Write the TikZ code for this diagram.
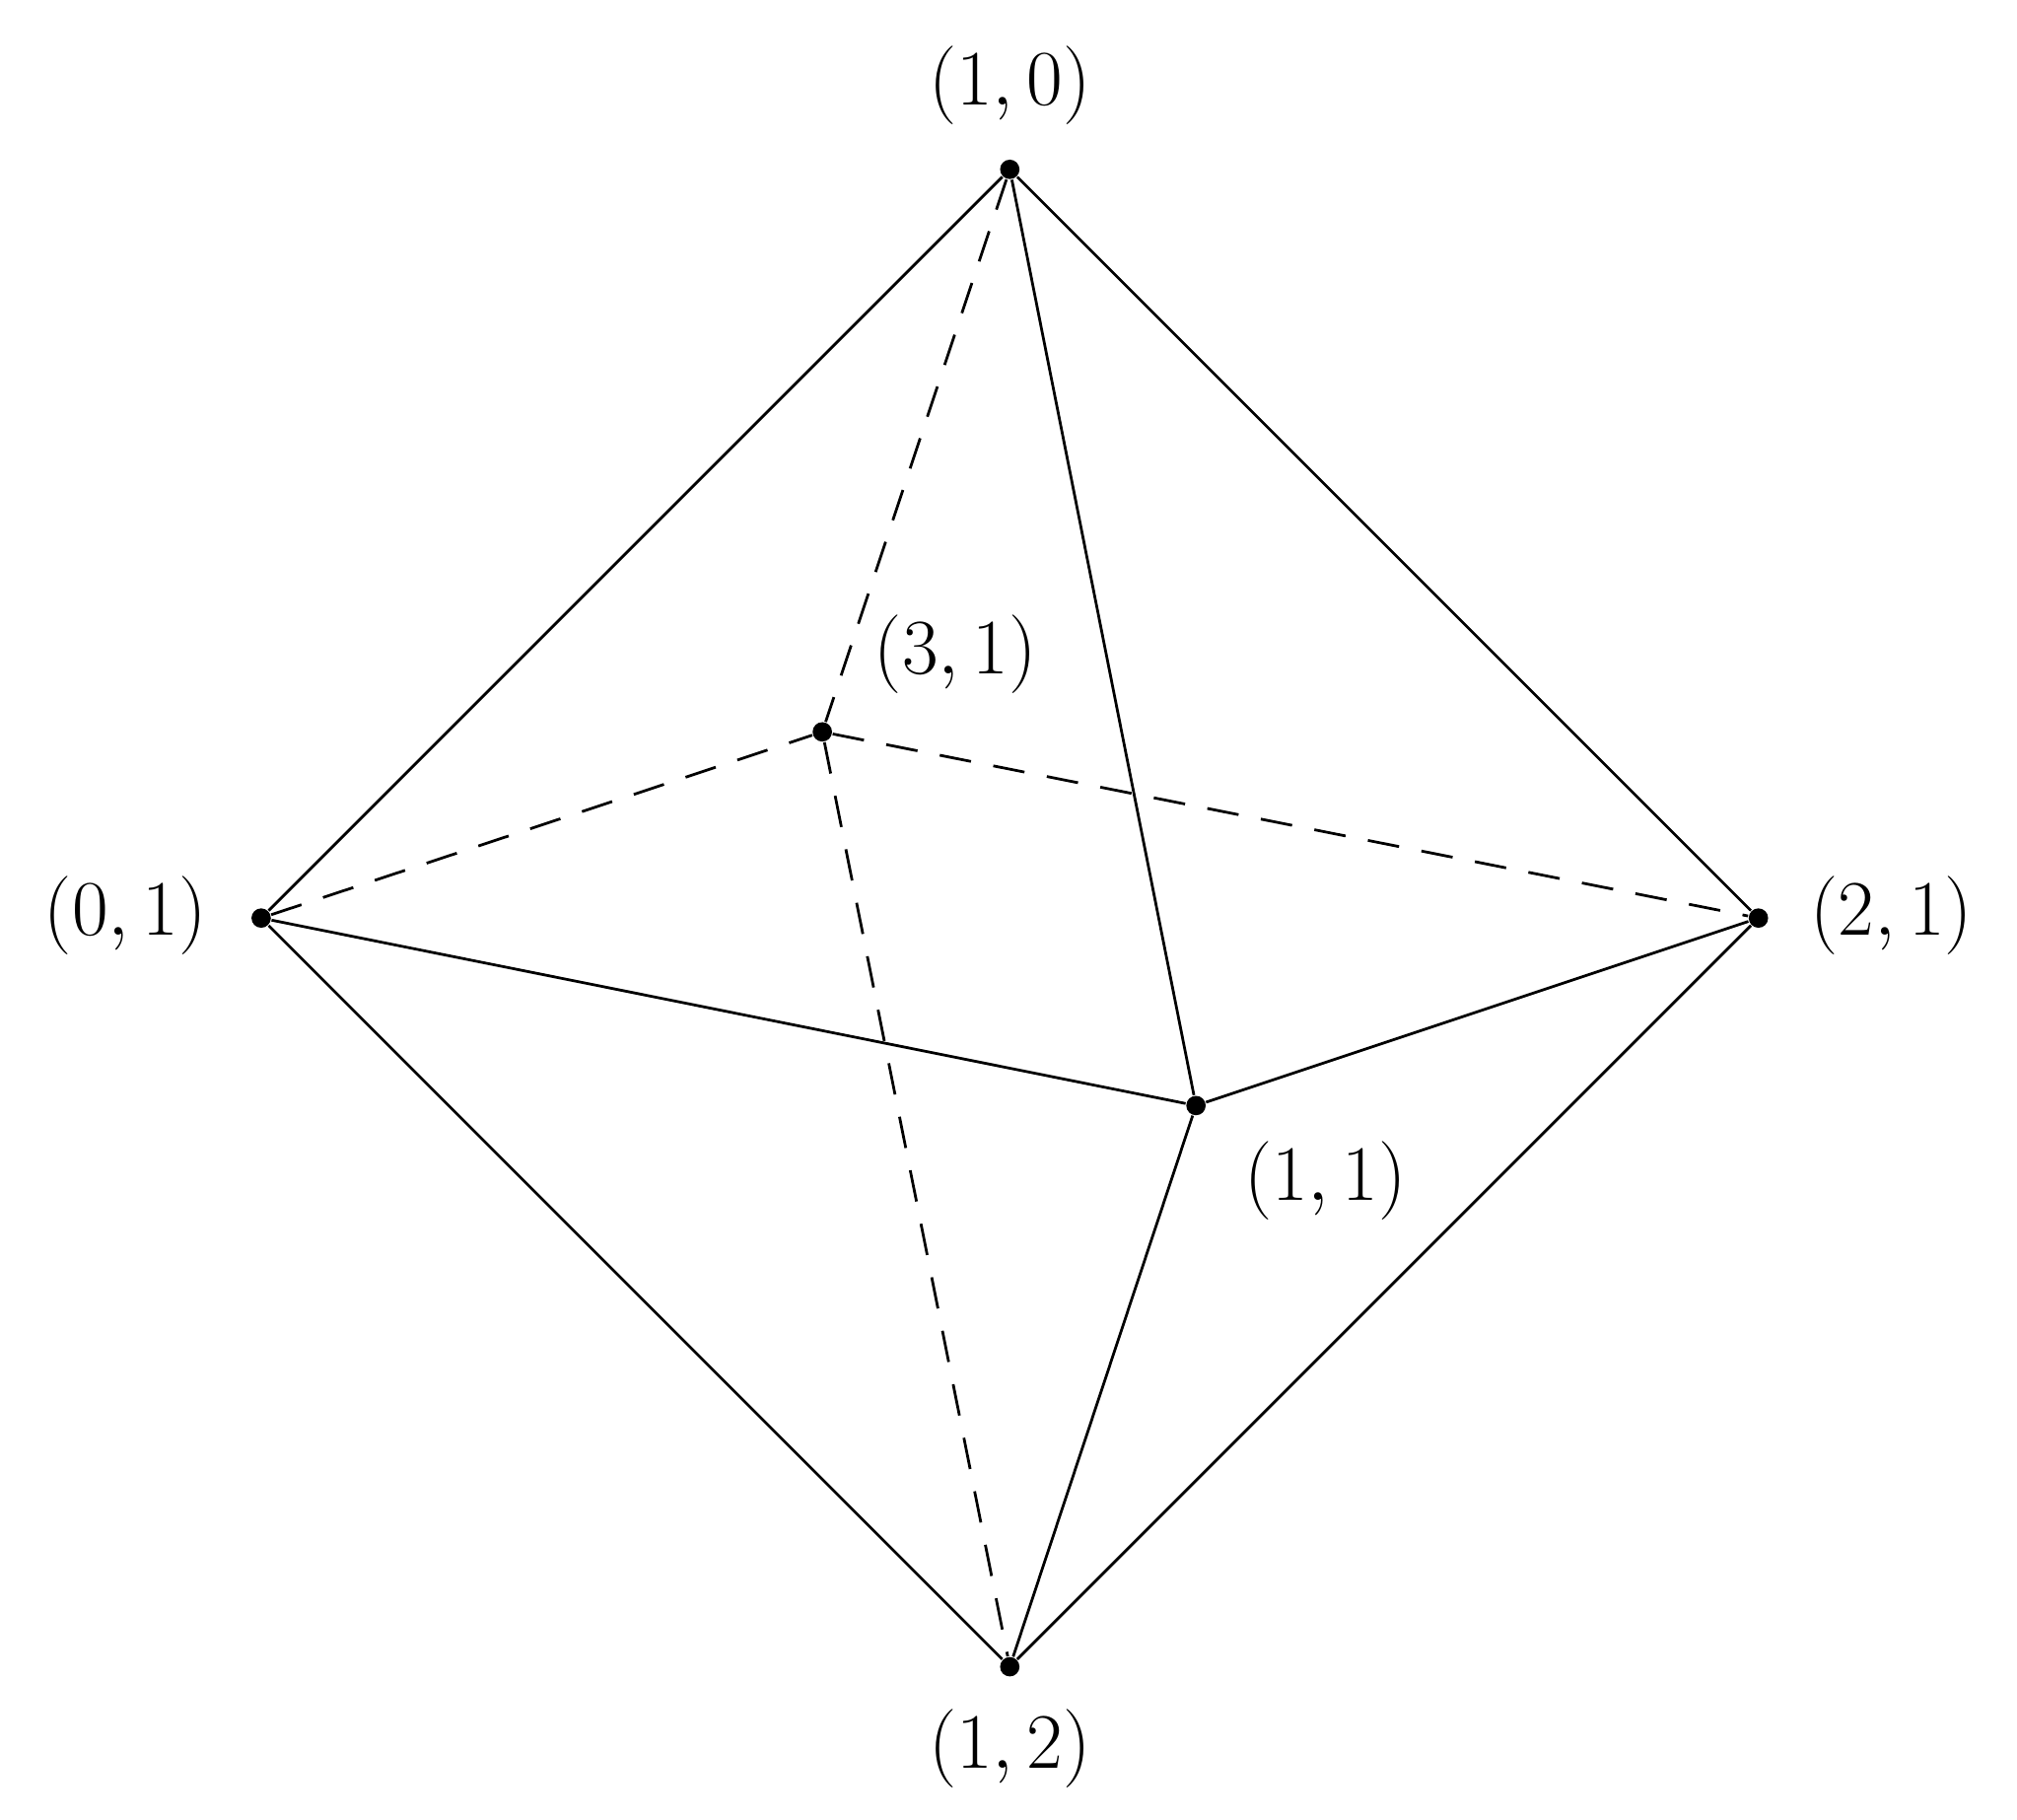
\documentclass[tikz,border=0pt]{standalone}
\begin{document}
\begin{tikzpicture}[x=0.01cm,y=-0.01cm,
  pt/.style={circle,fill=black,inner sep=0pt,minimum size=0.15cm},
  lab/.style={font=\fontsize{17}{20}\selectfont},
  edge/.style={line width=0.6pt},
  hid/.style={line width=0.6pt,dashed,dash pattern=on 7pt off 5pt}]
\useasboundingbox (0,0) rectangle (1560,1407);
\node[pt] (t) at (781,131) {};
\node[pt] (l) at (202,710) {};
\node[pt] (r) at (1360,710) {};
\node[pt] (b) at (781,1289) {};
\node[pt] (h) at (636,566) {};
\node[pt] (f) at (925,855) {};
\node[lab] (lt) at (781,66) {$(1,0)$};
\node[lab] (ll) at (97,708) {$(0,1)$};
\node[lab] (lr) at (1463,708) {$(2,1)$};
\node[lab] (lb) at (781,1352) {$(1,2)$};
\node[lab] (lh) at (739,506) {$(3,1)$};
\node[lab] (lf) at (1025,913) {$(1,1)$};
\draw[edge] (t) -- (l) -- (b) -- (r) -- (t);
\draw[edge] (t) -- (f) -- (b);
\draw[edge] (l) -- (f) -- (r);
\draw[hid] (t) -- (h) -- (b);
\draw[hid] (l) -- (h) -- (r);
\end{tikzpicture}
\end{document}
